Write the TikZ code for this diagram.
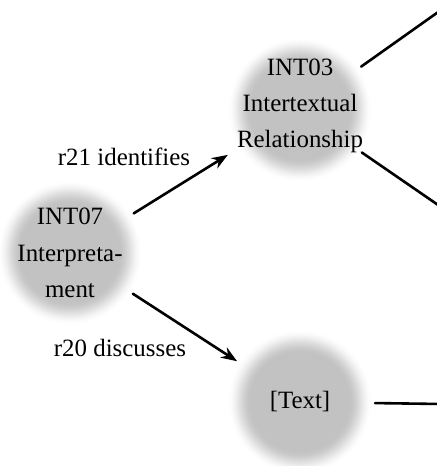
\documentclass[tikz,border=0pt]{standalone}
\usepackage{fontspec}
\setmainfont{Liberation Serif}
\usetikzlibrary{arrows.meta,fadings}

\definecolor{orbgray}{RGB}{194,194,194}
% fade the last quarter of a line
\pgfdeclarehorizontalshading{tailshade}{100bp}{color(0bp)=(pgftransparent!0); color(75bp)=(pgftransparent!0); color(100bp)=(pgftransparent!100)}
\pgfdeclarefading{tailfade}{\pgfuseshading{tailshade}}

\begin{document}
\begin{tikzpicture}[x=1bp,y=-1bp,
  orb/.style={circle,minimum size=132bp,inner sep=0pt,outer sep=9bp},
  txt/.style={align=center,font=\fontsize{25}{36.5}\selectfont},
  rel/.style={line width=2.6bp,line cap=round,-{Stealth[length=16bp,width=12bp]}},
  link/.style={line width=2.6bp,line cap=round,path fading=tailfade}]
\useasboundingbox (0,0) rectangle (437,466);

\node (int07) at (70,253) [orb] {};
\node (int03) at (300,110) [orb] {};
\node (text) at (300,402) [orb] {};

% blurred discs
\foreach \n in {int07,int03,text}{
  \foreach \i in {0,...,24}{
    \pgfmathtruncatemacro\shadepct{100*(3*(\i/24)^2-2*(\i/24)^3)}
    \pgfmathsetmacro\discrad{73-\i}
    \fill[color=orbgray!\shadepct!white] (\n) circle[radius=\discrad bp];
  }
}

\node (int07-label) at (int07) [txt] {INT07\\Interpreta-\\ment};
\node (int03-label) at (300,106) [txt] {INT03\\Intertextual\\Relationship};
\node (text-label) at (text) [txt] {[Text]};

\coordinate (out1) at (441,10);
\coordinate (out2) at (441,207);
\coordinate (out3) at (441,404);

\node (r21) at (124,157) [txt] {r21 identifies};
\node (r20) at (120,348) [txt] {r20 discusses};

\draw[rel,shorten >=10bp] (int07) to (int03);
\draw[rel] (int07) to (text);
\draw[link] (int03) to (out1);
\draw[link] (int03) to (out2);
\draw[link] (text) to (out3);
\end{tikzpicture}
\end{document}
